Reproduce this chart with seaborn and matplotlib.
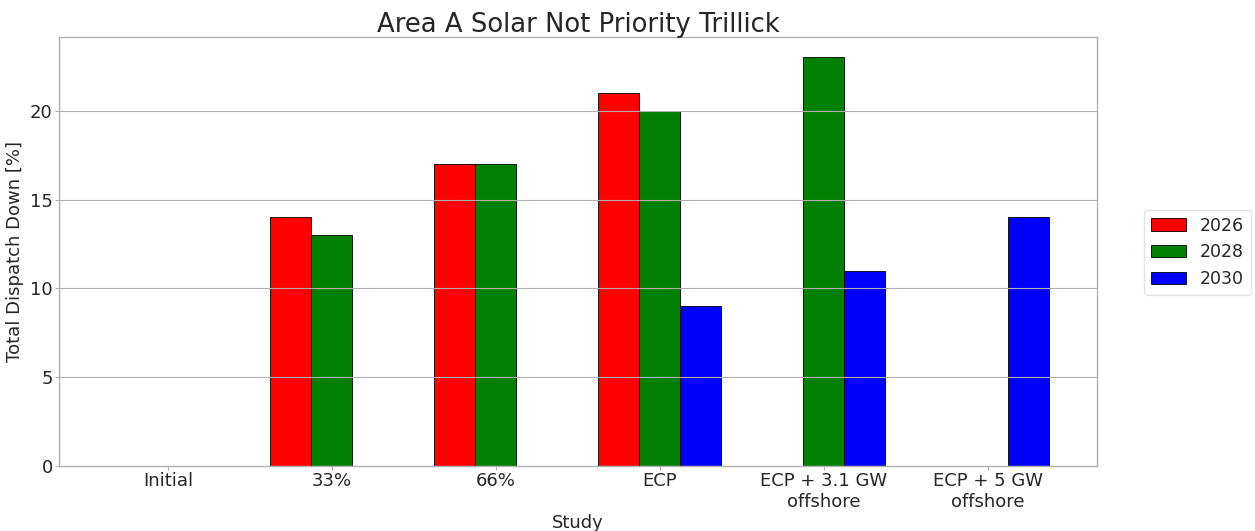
import numpy as np
import pandas as pd
import matplotlib
matplotlib.use("Agg")
import matplotlib.pyplot as plt
import seaborn as sns

# Study scenarios and dispatch-down results per year (NaN = not studied)
studies = ["Initial", "33%", "66%", "ECP", "ECP + 3.1 GW\noffshore", "ECP + 5 GW\noffshore"]
years = ["2026", "2028", "2030"]
dd_2026 = [np.nan, 14, 17, 21, np.nan, np.nan]
dd_2028 = [np.nan, 13, 17, 20, 23, np.nan]
dd_2030 = [np.nan, np.nan, np.nan, 9, 11, 14]
year_colors = ["#ff0000", "#008000", "#0000ff"]

rows = []
for yr, vals in zip(years, [dd_2026, dd_2028, dd_2030]):
    for st, v in zip(studies, vals):
        if not np.isnan(v):
            rows.append({"Study": st, "Year": yr, "Value": v})
df = pd.DataFrame(rows)

sns.set_theme(style="whitegrid")
text_c = "#262626"
plt.rcParams.update({
    "font.family": ["DejaVu Sans"],
    "axes.edgecolor": "#b0b0b0",
    "axes.linewidth": 1.0,
    "grid.color": "#b0b0b0",
    "grid.linewidth": 0.8,
    "text.color": text_c,
    "axes.labelcolor": text_c,
    "xtick.color": text_c,
    "ytick.color": text_c,
})

fig = plt.figure(figsize=(12.55, 5.31), dpi=100)
ax = fig.add_axes([0.047, 0.1224, 0.827, 0.8078])

sns.barplot(data=df, x="Study", y="Value", hue="Year", order=studies,
            hue_order=years, palette=year_colors, width=0.75,
            edgecolor="black", linewidth=0.6, saturation=1, ax=ax)

ax.set_axisbelow(False)
ax.grid(axis="y", zorder=1.5)
ax.grid(axis="x", visible=False)
ax.set_xlim(-0.665, 5.665)
ax.set_yticks([0, 5, 10, 15, 20])
ax.tick_params(axis="both", labelsize=13, length=3, color="#b0b0b0", width=0.8,
               pad=1.5, bottom=True, left=True)
ax.set_title("Area A Solar Not Priority Trillick", fontsize=18.6, pad=4)
ax.set_xlabel("Study", fontsize=13, labelpad=2)
ax.set_ylabel("Total Dispatch Down [%]", fontsize=13, labelpad=4)

handles, labels = ax.get_legend_handles_labels()
ax.legend(handles, labels, loc="center left", bbox_to_anchor=(0.905, 0.525),
          bbox_transform=fig.transFigure, fontsize=12.5, title=None,
          frameon=True, edgecolor="#dddddd")

fig.savefig("out.png", dpi=100)
